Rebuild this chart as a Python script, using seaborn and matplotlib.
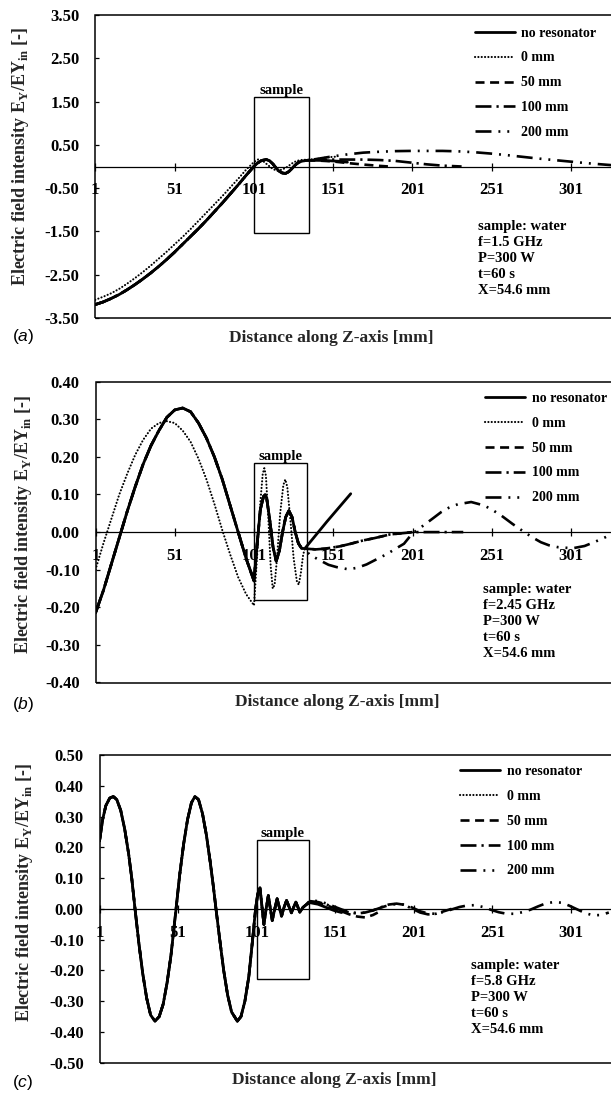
import numpy as np
import pandas as pd
import matplotlib
matplotlib.use("Agg")
import matplotlib.pyplot as plt
import seaborn as sns
from matplotlib.patches import Rectangle

# ---------------- data ----------------
series_names = ["no resonator", "0 mm", "50 mm", "100 mm", "200 mm"]
x_ticks = [1, 51, 101, 151, 201, 251, 301]

# panel (a): f = 1.5 GHz
a_x_shared = [1, 6, 11, 16, 21, 26, 31, 36, 41, 46, 51, 56, 61, 66, 71, 76, 81, 86, 91, 96,
              101, 103, 105, 107, 109, 111, 113, 115, 117, 119, 121, 123, 125, 127, 129, 131]
a_y_shared = [-3.19, -3.13, -3.05, -2.96, -2.85, -2.73, -2.60, -2.46, -2.31, -2.15, -1.98, -1.80,
              -1.62, -1.44, -1.25, -1.05, -0.85, -0.64, -0.43, -0.21,
              0.0, 0.07, 0.12, 0.15, 0.16, 0.13, 0.06, -0.03, -0.11, -0.15, -0.16, -0.12, -0.05,
              0.03, 0.09, 0.12]
a_x_solid_tail = [134, 140, 145, 150, 155, 160]
a_y_solid_tail = [0.14, 0.145, 0.14, 0.13, 0.12, 0.10]
a_x_dot = [1, 6, 11, 16, 21, 26, 31, 36, 41, 46, 51, 56, 61, 66, 71, 76, 81, 86, 91, 96,
           101, 104, 107, 110, 113, 116, 119, 122, 125, 128, 131, 135, 140, 145, 150, 154]
a_y_dot = [-3.08, -3.01, -2.93, -2.83, -2.71, -2.58, -2.44, -2.29, -2.13, -1.97, -1.80, -1.63,
           -1.45, -1.26, -1.07, -0.88, -0.69, -0.49, -0.29, -0.08,
           0.10, 0.17, 0.12, 0.03, -0.06, -0.10, -0.07, -0.01, 0.07, 0.13, 0.15, 0.16, 0.17,
           0.20, 0.22, 0.23]
a_x_50_tail = [134, 140, 150, 160, 170, 180, 186]
a_y_50_tail = [0.14, 0.14, 0.12, 0.08, 0.045, 0.015, 0.0]
a_x_100_tail = [134, 140, 150, 160, 170, 180, 190, 200, 210, 220, 232]
a_y_100_tail = [0.14, 0.15, 0.16, 0.16, 0.16, 0.15, 0.13, 0.09, 0.05, 0.02, 0.0]
a_x_200_tail = [134, 140, 150, 160, 170, 180, 190, 200, 210, 220, 230, 240, 250, 260, 270,
                280, 290, 300, 310, 320, 327]
a_y_200_tail = [0.14, 0.17, 0.23, 0.28, 0.32, 0.34, 0.355, 0.36, 0.36, 0.36, 0.35, 0.33, 0.30,
                0.265, 0.225, 0.185, 0.15, 0.115, 0.08, 0.05, 0.03]
a_yticks = [-3.5, -2.5, -1.5, -0.5, 0.5, 1.5, 2.5, 3.5]
a_box = [101, 136, -1.53, 1.61]
a_info = ["sample: water", "f=1.5 GHz", "P=300 W", "t=60 s", "X=54.6 mm"]

# panel (b): f = 2.45 GHz
b_x_shared = [1, 6, 11, 16, 21, 26, 31, 36, 41, 46, 51, 56, 61, 66, 71, 76, 81, 86, 91, 96, 101,
              103, 105, 107, 108, 109, 111, 113, 115, 117, 119, 121, 123, 125, 127, 129, 131, 133]
b_y_shared = [-0.215, -0.155, -0.085, -0.015, 0.055, 0.12, 0.18, 0.23, 0.27, 0.305, 0.325, 0.33,
              0.32, 0.29, 0.25, 0.20, 0.14, 0.07, 0.0, -0.07, -0.13,
              -0.03, 0.06, 0.095, 0.10, 0.09, 0.03, -0.04, -0.077, -0.05, 0.0, 0.04, 0.057, 0.04,
              0.0, -0.03, -0.043, -0.044]
b_x_solid_tail = [133, 147, 162]
b_y_solid_tail = [-0.044, 0.028, 0.102]
b_x_dot = [1, 6, 11, 16, 21, 26, 31, 36, 41, 46, 51, 56, 61, 66, 71, 76, 81, 86, 91, 96, 101,
           103, 105, 106.5, 107.5, 108.5, 110, 111.5, 112.8, 114, 115.5, 117.5, 119.5, 120.7, 122,
           124, 126, 128, 129.2, 130.5, 132, 133]
b_y_dot = [-0.10, -0.03, 0.035, 0.10, 0.155, 0.205, 0.245, 0.275, 0.29, 0.295, 0.29, 0.27, 0.24,
           0.195, 0.14, 0.075, 0.005, -0.06, -0.12, -0.165, -0.195,
           -0.06, 0.08, 0.155, 0.17, 0.15, 0.04, -0.09, -0.15, -0.14, -0.07, 0.05, 0.125, 0.14,
           0.12, 0.03, -0.07, -0.13, -0.14, -0.11, -0.06, -0.045]
b_x_50_tail = [133, 140, 146, 155, 162, 170, 177, 187, 197, 201]
b_y_50_tail = [-0.044, -0.046, -0.044, -0.038, -0.031, -0.022, -0.016, -0.006, -0.002, 0.0]
b_x_100_tail = [133, 140, 146, 155, 162, 170, 177, 187, 197, 201, 210, 220, 233]
b_y_100_tail = [-0.044, -0.046, -0.044, -0.038, -0.031, -0.022, -0.016, -0.006, -0.002, 0.0,
                0.0, 0.0, 0.0]
b_x_200_tail = [133, 136, 142.5, 148, 153, 160.5, 166, 172, 178, 185, 190, 195.6, 200.8, 208,
                214, 219, 224, 229.5, 238, 246, 251, 257, 264, 271.5, 277, 282, 287, 292.6, 302,
                309.5, 316, 323, 327]
b_y_200_tail = [-0.044, -0.06, -0.075, -0.087, -0.093, -0.099, -0.095, -0.086, -0.073, -0.058,
                -0.045, -0.031, -0.004, 0.018, 0.037, 0.053, 0.065, 0.074, 0.08, 0.071, 0.06,
                0.044, 0.022, 0.0, -0.015, -0.027, -0.035, -0.040, -0.043, -0.037, -0.026,
                -0.013, -0.005]
b_yticks = [-0.4, -0.3, -0.2, -0.1, 0.0, 0.1, 0.2, 0.3, 0.4]
b_box = [101, 134.5, -0.18, 0.183]
b_info = ["sample: water", "f=2.45 GHz", "P=300 W", "t=60 s", "X=54.6 mm"]

# panel (c): f = 5.8 GHz
c_x_shared = [1, 3, 5, 7.5, 9.8, 12, 14.5, 17, 19.5, 21.5, 23.6, 26, 28.5, 31, 33.5, 36.3, 39,
              41.5, 44, 46.5, 49.7, 52, 54.5, 57, 59.5, 61.7, 64, 66.5, 69, 71.5, 73.5, 75.1,
              77.5, 80, 82.5, 85, 88.7, 91, 93.5, 96, 98, 100.3, 101.7, 103.1, 104.3, 105.6, 107,
              108.4, 109.7, 110.9, 112.5, 114, 115.4, 116.8, 118.4, 120, 121.5, 123.1, 124.5,
              125.9, 127.2, 128.4, 130.5, 132.6]
c_y_shared = [0.22, 0.29, 0.335, 0.36, 0.365, 0.355, 0.32, 0.26, 0.18, 0.10, 0.0, -0.11, -0.21,
              -0.29, -0.345, -0.365, -0.35, -0.31, -0.24, -0.15, 0.0, 0.11, 0.21, 0.29, 0.345,
              0.365, 0.355, 0.31, 0.24, 0.15, 0.07, 0.0, -0.10, -0.20, -0.28, -0.335, -0.365,
              -0.35, -0.30, -0.22, -0.12, 0.0, 0.05, 0.068, 0.01, -0.051, 0.0, 0.043, 0.0,
              -0.038, 0.0, 0.033, 0.005, -0.024, 0.005, 0.027, 0.008, -0.013, 0.005, 0.022,
              0.006, -0.011, 0.005, 0.014]
c_x_solid_tail = [132.6, 135, 140, 145, 150, 155]
c_y_solid_tail = [0.014, 0.02, 0.015, 0.005, -0.005, -0.012]
c_x_50_tail = [132.6, 135, 140, 145, 150, 155, 160, 165, 170, 175, 178]
c_y_50_tail = [0.014, 0.022, 0.02, 0.012, 0.003, -0.008, -0.018, -0.025, -0.028, -0.02, -0.012]
c_x_100_tail = [132.6, 135, 140, 145, 150, 155, 160, 165, 170, 175, 180, 185, 190, 195, 200,
                205, 210, 215, 220, 225]
c_y_100_tail = [0.014, 0.025, 0.022, 0.015, 0.005, -0.005, -0.012, -0.015, -0.012, -0.005,
                0.005, 0.014, 0.017, 0.013, 0.0, -0.012, -0.018, -0.016, -0.008, 0.0]
c_x_200_tail = [132.6, 135, 140, 145, 150, 155, 160, 165, 170, 175, 180, 185, 190, 195, 200,
                205, 210, 215, 220, 225, 230, 235, 240, 245, 250, 255, 260, 265, 270, 275, 280,
                285, 290, 295, 300, 305, 310, 315, 320, 325]
c_y_200_tail = [0.014, 0.028, 0.025, 0.018, 0.008, -0.002, -0.01, -0.014, -0.012, -0.005, 0.004,
                0.012, 0.016, 0.014, 0.004, -0.008, -0.015, -0.016, -0.01, -0.002, 0.006, 0.011,
                0.012, 0.006, -0.003, -0.011, -0.016, -0.016, -0.011, -0.003, 0.008, 0.018,
                0.022, 0.02, 0.01, -0.002, -0.014, -0.021, -0.02, -0.012]
c_yticks = [-0.5, -0.4, -0.3, -0.2, -0.1, 0.0, 0.1, 0.2, 0.3, 0.4, 0.5]
c_box = [101, 134, -0.228, 0.225]
c_info = ["sample: water", "f=5.8 GHz", "P=300 W", "t=60 s", "X=54.6 mm"]

# ---------------- styling ----------------
sns.set_style("white")
plt.rcParams.update({
    "font.family": ["Liberation Serif", "DejaVu Serif"],
    "font.weight": "bold",
    "mathtext.fontset": "custom",
    "mathtext.rm": "Liberation Serif:bold",
    "mathtext.bf": "Liberation Serif:bold",
    "mathtext.it": "Liberation Sans:italic:normal",
    "axes.unicode_minus": False,
    "lines.scale_dashes": False,
    "text.color": "black",
    "xtick.color": "black",
    "ytick.color": "black",
})

line_styles = {
    "no resonator": dict(linestyle="-", linewidth=2.0),
    "0 mm": dict(linestyle=(0, (0.1, 2.3)), linewidth=1.5, dash_capstyle="round"),
    "50 mm": dict(linestyle=(0, (6.5, 4.0)), linewidth=1.9),
    "100 mm": dict(linestyle=(0, (11.5, 3.6, 1.6, 3.6)), linewidth=1.9),
    "200 mm": dict(linestyle=(0, (11.5, 5.0, 1.4, 5.0, 1.4, 5.0)), linewidth=1.9),
}

W, H = 611, 1094
fig = plt.figure(figsize=(W / 100, H / 100), dpi=100)


def make_df(x, y):
    return pd.DataFrame({"x": x, "y": y})


panels = [
    dict(
        series={
            "200 mm": make_df(a_x_shared + a_x_200_tail, a_y_shared + a_y_200_tail),
            "100 mm": make_df(a_x_shared + a_x_100_tail, a_y_shared + a_y_100_tail),
            "50 mm": make_df(a_x_shared + a_x_50_tail, a_y_shared + a_y_50_tail),
            "0 mm": make_df(a_x_dot, a_y_dot),
            "no resonator": make_df(a_x_shared + a_x_solid_tail, a_y_shared + a_y_solid_tail),
        },
        yticks=a_yticks, box=a_box, info=a_info, tag="a",
        px=(95.2, 15, 318), xmax=326.2,
        leg=(0.736, 0.962), info_pos=(0.743, 0.323),
        xlab=(0.457, -0.066), ylab=(-0.144, 0.533), tag_y=336,
    ),
    dict(
        series={
            "200 mm": make_df(b_x_shared + b_x_200_tail, b_y_shared + b_y_200_tail),
            "100 mm": make_df(b_x_shared + b_x_100_tail, b_y_shared + b_y_100_tail),
            "50 mm": make_df(b_x_shared + b_x_50_tail, b_y_shared + b_y_50_tail),
            "0 mm": make_df(b_x_dot, b_y_dot),
            "no resonator": make_df(b_x_shared + b_x_solid_tail, b_y_shared + b_y_solid_tail),
        },
        yticks=b_yticks, box=b_box, info=b_info, tag="b",
        px=(95.5, 381.7, 682.5), xmax=326.2,
        leg=(0.756, 0.967), info_pos=(0.752, 0.331),
        xlab=(0.4685, -0.065), ylab=(-0.140, 0.525), tag_y=704,
    ),
    dict(
        series={
            "200 mm": make_df(c_x_shared + c_x_200_tail, c_y_shared + c_y_200_tail),
            "100 mm": make_df(c_x_shared + c_x_100_tail, c_y_shared + c_y_100_tail),
            "50 mm": make_df(c_x_shared + c_x_50_tail, c_y_shared + c_y_50_tail),
            "0 mm": make_df(c_x_shared, c_y_shared),
            "no resonator": make_df(c_x_shared + c_x_solid_tail, c_y_shared + c_y_solid_tail),
        },
        yticks=c_yticks, box=c_box, info=c_info, tag="c",
        px=(99.5, 755, 1062.7), xmax=326.4,
        leg=(0.705, 0.9685), info_pos=(0.726, 0.338),
        xlab=(0.4585, -0.056), ylab=(-0.147, 0.555), tag_y=1082,
    ),
]

for p in panels:
    left, top, bottom = p["px"]
    ax = fig.add_axes([left / W, 1 - bottom / H, (W - left) / W, (bottom - top) / H])
    handles = {}
    for name, df in p["series"].items():
        sns.lineplot(data=df, x="x", y="y", ax=ax, color="black", estimator=None,
                     sort=False, **line_styles[name])
        handles[name] = ax.lines[-1]

    yt = p["yticks"]
    ax.set_xlim(1, p["xmax"])
    ax.set_ylim(yt[0], yt[-1])
    ax.set_xticks(x_ticks)
    ax.set_xticklabels([str(v) for v in x_ticks])
    ax.set_yticks(yt)
    ax.set_yticklabels([f"{v:.2f}" for v in yt])

    for s in ["left", "right", "top"]:
        ax.spines[s].set_visible(False)
    ax.spines["bottom"].set_position(("data", 0))
    ax.spines["bottom"].set_linewidth(0.9)
    ax.spines["bottom"].set_color("black")
    ax.add_patch(Rectangle((0, 0), 1.05, 1, transform=ax.transAxes, fill=False,
                           edgecolor="black", linewidth=1.1, clip_on=False, zorder=5))

    ax.tick_params(axis="x", bottom=True, direction="inout", length=6, width=0.9,
                   pad=8.5, labelsize=12)
    ax.tick_params(axis="y", left=True, direction="in", length=3, width=0.9,
                   pad=11.3, labelsize=12)
    for lab in ax.get_xticklabels() + ax.get_yticklabels():
        lab.set_fontweight("bold")

    # sample box
    bx0, bx1, by0, by1 = p["box"]
    ax.add_patch(Rectangle((bx0, by0), bx1 - bx0, by1 - by0, fill=False,
                           edgecolor="black", linewidth=1.0, zorder=4))
    ax.text((bx0 + bx1) / 2, by1, "sample", ha="center", va="bottom", fontsize=10.5,
            fontweight="bold")

    # info text
    ax.text(p["info_pos"][0], p["info_pos"][1], "\n".join(p["info"]), transform=ax.transAxes,
            ha="left", va="top", fontsize=10.5, fontweight="bold", linespacing=1.3)

    # legend
    ax.legend([handles[n] for n in series_names], series_names, loc="upper left",
              bbox_to_anchor=p["leg"], frameon=False, borderpad=0, borderaxespad=0,
              handlelength=2.9, handletextpad=0.45, labelspacing=0.86,
              prop={"size": 10, "weight": "bold", "family": "Liberation Serif"})

    ax.set_xlabel("Distance along Z-axis [mm]", fontsize=12.5, fontweight="bold")
    ax.xaxis.set_label_coords(*p["xlab"])
    ax.xaxis.label.set_va("center")
    ax.set_ylabel(r"Electric field intensity E$_{\mathrm{Y}}$/EY$_{\mathrm{in}}$ [-]",
                  fontsize=13, fontweight="bold")
    ax.yaxis.set_label_coords(*p["ylab"])
    ax.yaxis.label.set_va("center")

    fig.text(12 / W, 1 - p["tag_y"] / H, "($\\mathit{" + p["tag"] + "}$)",
             family="Liberation Sans", fontweight="normal", fontsize=12.5,
             ha="left", va="center")

fig.savefig("out.png", dpi=100)
